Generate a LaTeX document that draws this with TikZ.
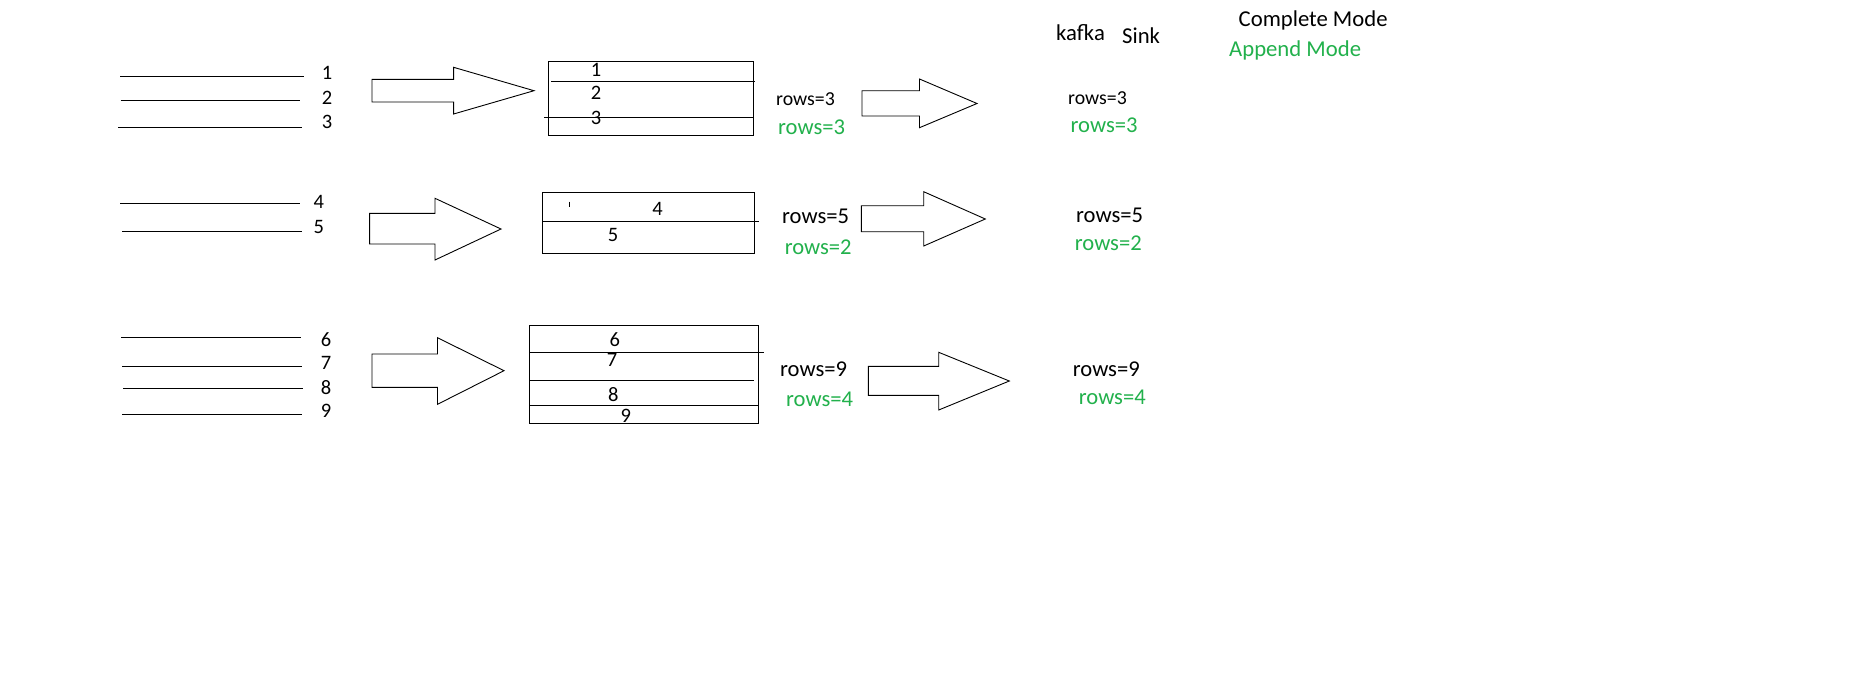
\documentclass[tikz,border=0pt]{standalone}
\usepackage{fontspec}
\setmainfont{Carlito}
\definecolor{paintgreen}{RGB}{34,177,76}
\begin{document}
\begin{tikzpicture}[x=1pt,y=-1pt,
  rule/.style={line width=1pt},
  blockarrow/.style={line width=0.9pt, line join=miter},
  num/.style={font=\fontsize{20.5}{24}\selectfont, inner sep=0pt},
  cnt/.style={font=\fontsize{22.6}{26}\selectfont, inner sep=0pt, anchor=west},
  cntsmall/.style={font=\fontsize{19.8}{23}\selectfont, inner sep=0pt, anchor=west},
  head/.style={font=\fontsize{22.7}{26}\selectfont, inner sep=0pt, anchor=base west},
  appended/.style={text=paintgreen},
]
\useasboundingbox (0,0) rectangle (1850,691);
\fill[white] (0,0) rectangle (1850,691);

% ---------- header ----------
\node[head] (kafka) at (1056,40.7) {kafka};
\node[head] (sink) at (1122,43.3) {Sink};
\node[head] (complete) at (1238.5,26.7) {Complete Mode};
\node[head, appended] (append) at (1229,56.7) {Append Mode};

% ---------- batch 1: incoming records ----------
\draw[rule] (120,76) -- (304,76);
\draw[rule] (120.5,100.3) -- (300,100.3);
\draw[rule] (118,127.3) -- (302,127.3);
\node[num] (in1) at (327,73.3) {1};
\node[num] (in2) at (327,98.3) {2};
\node[num] (in3) at (327,121.7) {3};

\draw[blockarrow] (372,79.3) -- (453.6,79.3) -- (453.6,67.3) -- (534,90.7)
  -- (453.6,114) -- (453.6,102) -- (372,102) -- cycle;

% result table 1
\draw[rule] (548.7,61.3) rectangle (753,135);
\draw[rule] (551,81.3) -- (755,81.3);
\draw[rule] (544,117.3) -- (754,117.3);
\node[num] (t1a) at (596,70) {1};
\node[num] (t1b) at (596,93.3) {2};
\node[num] (t1c) at (596,118.3) {3};

\node[cntsmall] (c1) at (776,99) {rows=3};
\node[cnt, appended] (a1) at (778,127.7) {rows=3};

\draw[blockarrow] (862,90.7) -- (919.5,90.7) -- (919.5,79) -- (977,103.5)
  -- (919.5,127.7) -- (919.5,116) -- (862,116) -- cycle;

\node[cntsmall] (k1) at (1068,97.7) {rows=3};
\node[cnt, appended] (ka1) at (1070.5,125) {rows=3};

% ---------- batch 2 ----------
\draw[rule] (120,203.3) -- (299.5,203.3);
\draw[rule] (122,231.3) -- (302,231.3);
\node[num] (in4) at (318.7,201.7) {4};
\node[num] (in5) at (318.7,226.7) {5};

\draw[blockarrow] (369.6,213.3) -- (435,213.3) -- (435,198.3) -- (501,229)
  -- (435,260) -- (435,244) -- (369.6,244) -- cycle;

% result table 2
\draw[rule] (542.4,192.3) rectangle (754,253);
\draw[rule] (542,221.3) -- (758.5,221.3);
\draw[rule] (569.6,201.7) -- (569.6,207.3);
\node[num] (t2a) at (657.6,209.3) {4};
\node[num] (t2b) at (613,235) {5};

\node[cnt] (c2) at (782,216) {rows=5};
\node[cnt, appended] (a2) at (784.6,247.5) {rows=2};

\draw[blockarrow] (861.3,205.7) -- (923.7,205.7) -- (923.7,191.7) -- (985.3,219)
  -- (923.7,246) -- (923.7,231.7) -- (861.3,231.7) -- cycle;

\node[cnt] (k2) at (1076,215) {rows=5};
\node[cnt, appended] (ka2) at (1074.7,243.3) {rows=2};

% ---------- batch 3 ----------
\draw[rule] (121,337.3) -- (301,337.3);
\draw[rule] (122,366.7) -- (302,366.7);
\draw[rule] (123,388.3) -- (303,388.3);
\draw[rule] (122,414.3) -- (302,414.3);
\node[num] (in6) at (326,339.3) {6};
\node[num] (in7) at (326,363.3) {7};
\node[num] (in8) at (326,387.3) {8};
\node[num] (in9) at (326,410.7) {9};

\draw[blockarrow] (372,354) -- (437.5,354) -- (437.5,337.7) -- (504,370.7)
  -- (437.5,404.3) -- (437.5,387.3) -- (372,387.3) -- cycle;

% result table 3
\draw[rule] (529.4,325.3) rectangle (758,423.3);
\draw[rule] (529.4,352.3) -- (763.8,352.3);
\draw[rule] (529.4,380.3) -- (754.4,380.3);
\draw[rule] (529.4,405.3) -- (759.3,405.3);
\node[num] (t3a) at (614.7,340) {6};
\node[num] (t3b) at (612,360) {7};
\node[num] (t3c) at (613.4,395) {8};
\node[num] (t3d) at (625.9,416) {9};

\node[cnt] (c3) at (780,369.5) {rows=9};
\node[cnt, appended] (a3) at (786,399) {rows=4};

\draw[blockarrow] (868.3,366.3) -- (938.7,366.3) -- (938.7,352.3) -- (1009.3,381)
  -- (938.7,410) -- (938.7,395.3) -- (868.3,395.3) -- cycle;

\node[cnt] (k3) at (1072.7,369) {rows=9};
\node[cnt, appended] (ka3) at (1078.7,397.3) {rows=4};
\end{tikzpicture}
\end{document}
